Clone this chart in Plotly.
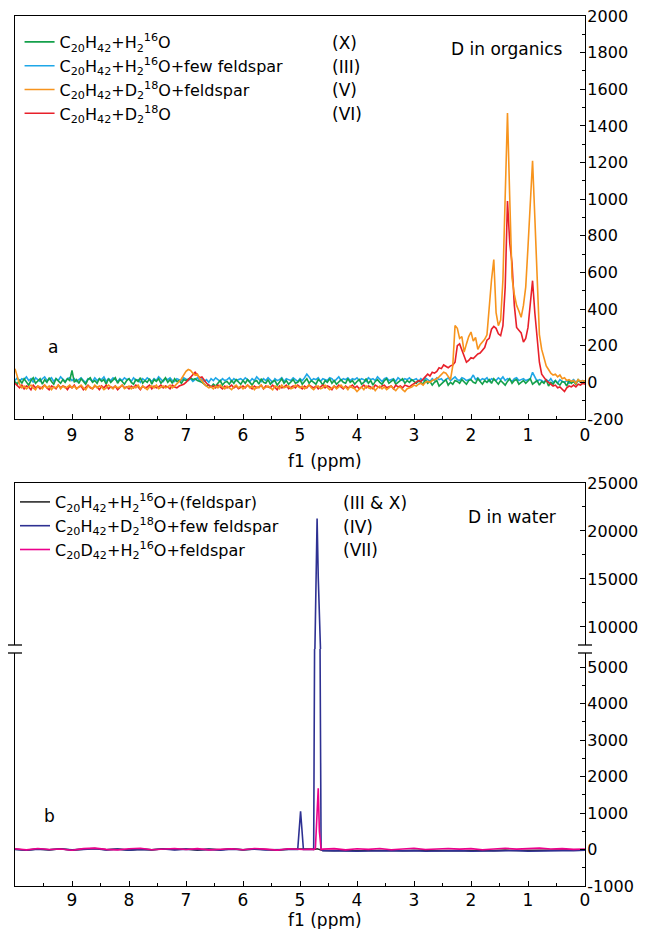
import plotly.graph_objects as go

FONT = "DejaVu Sans"

# ---------------- Panel a: D in organics ----------------
organics_ppm = [round(10 - 0.04 * i, 2) for i in range(251)]

green_X = [
    5, -10, 15, -5, 20,  0, -15, 10, 25, -5,  5, 20, -10, 15, 0,  25, 5, -10, 20, 10,  -5, 15, 0, 20, 10,
    65, 0, 15, -5, 20,  5, -10, 15, 25, 0,  10, -5, 20, 5, 15,  -10, 20, 0, 10, 25,  -5, 15, 5, -10, 10,
    20, 0, -10, 15, 5,  25, -5, 10, 0, 20,  -10, 15, 5, 20, -5,  10, 25, 0, 15, -5,  20, 5, 10, -5, 15,
    10, 20, 25, 15, 20,  10, 5, 0, -10, -20,  -15, -25, -10, -20, -5,  10, -15, 0, 5, -10,  10, -5, 15, 0, -10,
    10, -5, 15, 0, -15,  5, 10, -10, 20, 0,  -5, 15, -10, 5, 10,  -15, 0, 20, -5, 10,  -10, 5, 15, -5, 0,
    15, -10, 5, 20, -5,  10, 0, -10, 15, 5,  -15, 10, 0, 20, -5,  10, -10, 5, 15, 0,  -5, 20, 0, 10, -10,
    5, 15, -10, 0, 20,  -5, 10, -15, 5, 15,  0, -10, 10, 20, -5,  5, 15, -10, 0, 10,  20, -5, 10, 0, 15,
    5, -5, 10, 0, -10,  15, -5, 5, -15, 0,  10, -20, -10, 5, 15,  -15, 0, -10, 10, 5,  -5, 15, 0, -10, 10,
    15, 0, -5, 20, 5,  -10, 10, 0, 15, -5,  20, 5, -10, 10, 0,  -15, 5, 20, -5, 10,  15, -10, 0, 10, -5,
    5, 20, -10, 0, 10,  -15, 5, -5, 15, -20,  0, -10, 10, -5, -15,  5, 0, -20, 10, -5,  5, -10, 15, 0, -5,
    10,
]

blue_III = [
    10, 25, 5, 20, 15,  30, 10, 20, 0, 25,  15, 5, 20, 30, 10,  15, 25, 5, 20, 10,  30, 15, 5, 20, 25,
    10, 20, 5, 15, 25,  10, 0, 20, 15, 5,  25, 10, 20, 15, 30,  5, 20, 10, 25, 15,  5, 20, 10, 25, 15,
    20, 5, 25, 10, 15,  0, 20, 10, 25, 15,  5, 20, 10, 30, 15,  5, 20, 15, 25, 10,  5, 20, 15, 10, 25,
    15, 10, 20, 5, 15,  25, 10, 20, 5, 15,  0, 20, 10, 25, 15,  5, 20, 10, 15, 25,  5, 20, 10, 15, 20,
    10, 25, 15, 5, 20,  10, 30, 15, 5, 20,  10, 25, 15, 0, 20,  10, 15, 25, 5, 20,  15, 10, 25, 15, 5,
    20, 10, 25, 45, 30,  10, 20, 15, 25, 5,  20, 15, 10, 25, 20,  5, 15, 30, 10, 20,  15, 25, 10, 20, 15,
    25, 10, 20, 15, 5,  25, 15, 20, 10, 30,  15, 5, 20, 25, 10,  15, 20, 5, 25, 15,  10, 20, 15, 25, 10,
    15, 20, 5, 20, 10,  25, 15, 5, 20, 10,  25, 15, 20, 5, 15,  25, 10, 20, 30, 15,  10, 25, 20, 10, 15,
    20, 40, 15, 25, 10,  20, 15, 25, 5, 20,  15, 10, 25, 15, 30,  10, 20, 15, 5, 20,  25, 10, 15, 20, 10,
    15, 20, 55, 25, 5,  15, 10, 0, 15, 5,  20, 0, 10, -5, 15,  5, 0, 10, -5, 5,  15, 0, 10, 5, 10,
    5,
]

orange_V = [
    75, 30, -10, -30, -20,  -35, -25, -15, -30, -40,  -20, -25, -35, -15, -30,  -20, -40, -25, -30, -15,  -35, -20, -30, -25, -15,
    -30, -20, -35, -25, -15,  -30, -40, -20, -25, -35,  -15, -30, -20, -25, -40,  -30, -15, -25, -35, -20,  -30, -25, -15, -35, -25,
    -20, -35, -25, -30, -15,  -35, -20, -30, -40, -25,  -20, -30, -15, -35, -25,  -20, -30, -25, -15, -30,  -20, -10, 5, 20, 40,
    60, 70, 65, 50, 40,  45, 20, 10, -10, -20,  -30, -25, -35, -20, -30,  -15, -25, -35, -20, -30,  -40, -25, -15, -30, -20,
    -35, -25, -15, -30, -20,  -40, -25, -30, -15, -35,  -25, -20, -30, -40, -20,  -25, -35, -15, -30, -25,  -20, -35, -30, -15, -25,
    -30, -20, -35, -25, -15,  -30, -40, -25, -20, -35,  -30, -15, -25, -40, -30,  -20, -35, -25, -15, -30,  -25, -40, -20, -30, -35,
    -50, -35, -25, -40, -20,  -30, -35, -25, -45, -30,  -20, -35, -25, -40, -30,  -20, -35, -45, -30, -25,  -40, -50, -35, -30,
    -25, -15, -20, -10, -5,  -15, 0, 5, 0, 10,  15, 20, 30, 45, 55,  50, 35, 15, 90, 310,  295, 240, 250, 165, 210,
    250, 275, 225, 245, 180,  205, 220, 235, 260, 430,  560, 670, 380, 310, 340,  560, 1050, 1470, 1000, 570,  480, 420, 390, 355, 420,
    520, 740, 950, 1210, 900,  600, 260, 180, 130, 90,  70, 50, 40, 45, 30,  40, 20, 25, 10, 15,  5, 10, -5, 15, 5,
    10, 5,
]

red_VI = [
    -5, -20, -30, -15, -35,  -20, -25, -40, -15, -30,  -20, -35, -25, -15, -30,  -40, -20, -25, -35, -15,  -30, -20, -25, -40, -20,
    -30, -15, -35, -25, -20,  -40, -25, -15, -30, -35,  -20, -25, -40, -20, -30,  -15, -35, -25, -30, -20,  -40, -25, -15, -30, -25,
    -35, -20, -30, -15, -25,  -40, -20, -30, -25, -15,  -35, -20, -30, -25, -15,  -30, -20, -25, -35, -15,  -25, -30, -20, -15, -10,
    0, 15, 30, 45, 55,  40, 25, 30, 10, -5,  -15, -25, -20, -30, -15,  -25, -35, -20, -30, -25,  -15, -30, -20, -35, -25,
    -20, -30, -15, -25, -35,  -20, -30, -25, -15, -35,  -20, -25, -30, -15, -25,  -40, -20, -30, -25, -15,  -35, -25, -20, -30, -15,
    -25, -35, -20, -30, -15,  -25, -30, -20, -35, -25,  -15, -30, -20, -25, -40,  -20, -30, -15, -25, -35,  -20, -30, -25, -15, -30,
    -20, -35, -25, -15, -30,  -20, -25, -35, -15, -25,  -30, -20, -15, -30, -25,  -20, -35, -15, -25, -20,  -30, -15, -20, -25,
    -15, -5, 0, 10, 5,  20, 30, 45, 35, 55,  50, 60, 80, 75, 95,  85, 80, 90, 95, 110,  200, 210, 180, 145, 110,
    120, 135, 130, 145, 155,  160, 175, 190, 230, 240,  290, 305, 295, 265, 255,  310, 520, 990, 760, 650,  420, 300, 285, 270, 220,
    240, 300, 430, 555, 380,  230, 110, 45, 25, 10,  0, -10, -20, -15, -30,  -25, -40, -50, -30, -20,  -25, -15, -25, -10, -15,
    -5, -10,
]

# ---------------- Panel b: D in water ----------------
water_ppm = [
    10.0, 9.8, 9.6, 9.4, 9.2, 9.0, 8.8, 8.6, 8.4, 8.2,
    8.0, 7.8, 7.6, 7.4, 7.2, 7.0, 6.8, 6.6, 6.4, 6.2,
    6.0, 5.8, 5.6, 5.4, 5.2, 5.04, 4.99, 4.94, 4.8, 4.76,
    4.73, 4.70, 4.68, 4.66, 4.63, 4.6, 4.4, 4.2, 4.0, 3.8,
    3.6, 3.4, 3.2, 3.0, 2.8, 2.6, 2.4, 2.2, 2.0, 1.8,
    1.6, 1.4, 1.2, 1.0, 0.8, 0.6, 0.4, 0.2, 0.0,
]

black_III_X = [
    10, -20, 15, -10, 20, -15, 10, 30, -5, 15,
    -20, 10, -10, 20, 0, 15, -15, 10, -5, 20,
    -10, 15, 0, -20, 10, 5, 10, 5, -5, 0,
    10, 20, 15, 0, -10, -25, -30, -20, -35, -25,
    -30, -20, -35, -25, -15, -30, -20, -25, -35, -20,
    -30, -15, -25, -20, -30, -15, -25, -20, -10,
]

navy_IV = [
    0, -15, 10, -5, 15, -10, 5, 20, -10, 10,
    -15, 5, -5, 15, -10, 10, -5, 5, -15, 10,
    -5, 10, -10, 5, 0, 0, 1050, 0, -10, 0,
    10650, 21300, 15200, 9100, 0, -30, -40, -35, -45, -40,
    -35, -45, -40, -30, -45, -35, -40, -30, -45, -40,
    -35, -40, -30, -45, -35, -40, -30, -35, -20,
]

pink_VII = [
    20, -10, 30, 0, 15, -20, 25, 40, 5, -10,
    20, 35, -5, 15, 30, 0, 25, -10, 15, 20,
    -5, 30, 10, -15, 20, 5, 15, 0, 10, 0,
    30, 1000, 1680, 500, 0, 10, 25, -10, 20, 5,
    30, -5, 15, 35, 0, 20, 30, 10, 25, -5,
    20, 35, 10, 30, 40, 15, 25, 5, 15,
]

# tick labels
x_tickvals = [9, 8, 7, 6, 5, 4, 3, 2, 1, 0]
x_ticktext = ["9", "8", "7", "6", "5", "4", "3", "2", "1", "0"]
ya_tickvals = [-200, 0, 200, 400, 600, 800, 1000, 1200, 1400, 1600, 1800, 2000]
ya_ticktext = ["-200", "0", "200", "400", "600", "800", "1000", "1200", "1400", "1600", "1800", "2000"]
yb_low_tickvals = [-1000, 0, 1000, 2000, 3000, 4000, 5000]
yb_low_ticktext = ["-1000", "0", "1000", "2000", "3000", "4000", "5000"]
yb_up_tickvals = [10000, 15000, 20000, 25000]
yb_up_ticktext = ["10000", "15000", "20000", "25000"]

labels_a = [
    ("C<sub>20</sub>H<sub>42</sub>+H<sub>2</sub><sup>16</sup>O", "(X)"),
    ("C<sub>20</sub>H<sub>42</sub>+H<sub>2</sub><sup>16</sup>O+few feldspar", "(III)"),
    ("C<sub>20</sub>H<sub>42</sub>+D<sub>2</sub><sup>18</sup>O+feldspar", "(V)"),
    ("C<sub>20</sub>H<sub>42</sub>+D<sub>2</sub><sup>18</sup>O", "(VI)"),
]
labels_b = [
    ("C<sub>20</sub>H<sub>42</sub>+H<sub>2</sub><sup>16</sup>O+(feldspar)", "(III &amp; X)"),
    ("C<sub>20</sub>H<sub>42</sub>+D<sub>2</sub><sup>18</sup>O+few feldspar", "(IV)"),
    ("C<sub>20</sub>D<sub>42</sub>+H<sub>2</sub><sup>16</sup>O+feldspar", "(VII)"),
]

fig = go.Figure()

series_a = [
    (blue_III, "#1ea7e8", 1, 2),
    (green_X, "#14a04b", 0, 1),
    (red_VI, "#e8202a", 3, 4),
    (orange_V, "#f7941d", 2, 3),
]
for vals, color, li, rank in series_a:
    fig.add_trace(go.Scatter(
        x=organics_ppm, y=vals, mode="lines", name=labels_a[li][0],
        line=dict(color=color, width=1.6), xaxis="x", yaxis="y",
        legend="legend", legendrank=rank,
    ))

series_b = [
    (black_III_X, "#2b2b2b", 0),
    (navy_IV, "#2e3192", 1),
    (pink_VII, "#ec008c", 2),
]
for vals, color, li in series_b:
    fig.add_trace(go.Scatter(
        x=water_ppm, y=vals, mode="lines", name=labels_b[li][0],
        line=dict(color=color, width=1.6), xaxis="x2", yaxis="y3",
        legend="legend2", legendrank=li + 1,
    ))
for vals, color, li in series_b:
    fig.add_trace(go.Scatter(
        x=water_ppm, y=vals, mode="lines", name=labels_b[li][0],
        line=dict(color=color, width=1.6), xaxis="x3", yaxis="y4",
        showlegend=False,
    ))

# the page body has an 8px margin; lay the figure out in window pixels
OFF = 8
W, H = 651 - OFF, 929 - OFF
ML, MR, MT, MB = 15 - OFF, 66, 16 - OFF, 43
PW = W - ML - MR
PH = H - MT - MB


def py(pix):
    return (H - MB - (pix - OFF)) / PH


def px(pix):
    return (pix - OFF - ML) / PW


axis_common = dict(showline=True, linecolor="black", linewidth=1.3, showgrid=False, zeroline=False,
                   ticklabeloverflow="allow")
xcommon = dict(axis_common, range=[10, 0], tickvals=x_tickvals, ticktext=x_ticktext,
               tickfont=dict(family=FONT, size=17, color="black"),
               ticks="inside", ticklen=5, tickwidth=1.2, tickcolor="black",
               minor=dict(ticks="inside", ticklen=3, dtick=0.5, tick0=0, tickcolor="black", showgrid=False))
ycommon = dict(axis_common, side="right", mirror=True,
               tickfont=dict(family=FONT, size=16, color="black"), ticklabelstandoff=-2,
               ticks="inside", ticklen=5, tickwidth=1.2, tickcolor="black")

top_dom = [py(419), 1.0]
join = py(649)
bot_top = py(483)

fig.update_layout(
    width=W, height=H,
    margin=dict(l=ML, r=MR, t=MT, b=MB, autoexpand=False),
    paper_bgcolor="white", plot_bgcolor="white",
    font=dict(family=FONT, size=17, color="black"),
    xaxis=dict(xcommon, domain=[0, 1], anchor="y", mirror=True),
    yaxis=dict(ycommon, domain=top_dom, anchor="x",
               range=[-200, 2000], tickvals=ya_tickvals, ticktext=ya_ticktext,
               minor=dict(ticks="inside", ticklen=3, dtick=100, tick0=0, tickcolor="black")),
    xaxis2=dict(xcommon, domain=[0, 1], anchor="y3", ticklabelstandoff=-2),
    xaxis3=dict(axis_common, domain=[0, 1], anchor="y4", matches="x2", range=[10, 0], side="top",
                ticks="", showticklabels=False),
    yaxis3=dict(ycommon, domain=[0, join], anchor="x2",
                range=[-1000, 5500], tickvals=yb_low_tickvals, ticktext=yb_low_ticktext,
                minor=dict(ticks="inside", ticklen=3, dtick=500, tick0=0, tickcolor="black")),
    yaxis4=dict(ycommon, domain=[join, bot_top], anchor="x3",
                range=[7700, 25000], tickvals=yb_up_tickvals, ticktext=yb_up_ticktext,
                minor=dict(ticks="inside", ticklen=3, dtick=2500, tick0=0, tickcolor="black")),
    legend=dict(x=0.008, y=py(25), xanchor="left", yanchor="top", bgcolor="rgba(0,0,0,0)",
                font=dict(family=FONT, size=16, color="black"), itemwidth=30, tracegroupgap=0),
    legend2=dict(x=0.0, y=py(485), xanchor="left", yanchor="top", bgcolor="rgba(0,0,0,0)",
                 font=dict(family=FONT, size=16, color="black"), itemwidth=30, tracegroupgap=0),
    showlegend=True,
)

ann = []
tf = dict(family=FONT, size=17, color="black")
for i, (_, rn) in enumerate(labels_a):
    ann.append(dict(x=px(330), y=py(43 + 23.7 * i), xref="paper", yref="paper", text=rn,
                    showarrow=False, xanchor="left", yanchor="middle", font=tf))
for i, (_, rn) in enumerate(labels_b):
    ann.append(dict(x=px(341), y=py(503 + 23.7 * i), xref="paper", yref="paper", text=rn,
                    showarrow=False, xanchor="left", yanchor="middle", font=tf))
ann += [
    dict(x=px(565), y=py(49), xref="paper", yref="paper", text="D in organics", showarrow=False,
         xanchor="right", yanchor="middle", font=tf),
    dict(x=px(558), y=py(517), xref="paper", yref="paper", text="D in water", showarrow=False,
         xanchor="right", yanchor="middle", font=tf),
    dict(x=px(53), y=py(347), xref="paper", yref="paper", text="a", showarrow=False,
         xanchor="center", yanchor="middle", font=tf),
    dict(x=px(49), y=py(816), xref="paper", yref="paper", text="b", showarrow=False,
         xanchor="center", yanchor="middle", font=tf),
    dict(x=px(325), y=py(461), xref="paper", yref="paper", text="f1 (ppm)", showarrow=False,
         xanchor="center", yanchor="middle", font=tf),
    dict(x=px(325), y=py(920), xref="paper", yref="paper", text="f1 (ppm)", showarrow=False,
         xanchor="center", yanchor="middle", font=tf),
]
fig.update_layout(annotations=ann)

# axis break marks
shapes = []
for xc in (0.0, 1.0):
    shapes.append(dict(type="rect", xref="paper", yref="paper", x0=xc - 0.006, x1=xc + 0.006,
                       y0=py(653), y1=py(645), fillcolor="white", line=dict(width=0), layer="above"))
    for yy in (645, 653):
        shapes.append(dict(type="line", xref="paper", yref="paper", x0=xc - 7 / PW, x1=xc + 7 / PW,
                           y0=py(yy), y1=py(yy), line=dict(color="black", width=1.3), layer="above"))
fig.update_layout(shapes=shapes)

fig.write_html("out.html")
